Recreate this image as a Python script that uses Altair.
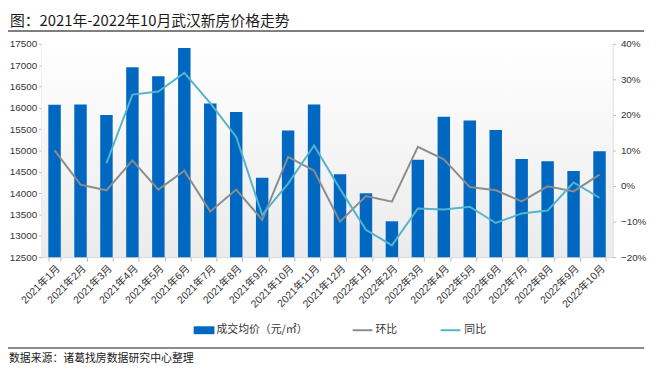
import altair as alt
import pandas as pd

months = ["2021年1月", "2021年2月", "2021年3月", "2021年4月", "2021年5月", "2021年6月",
          "2021年7月", "2021年8月", "2021年9月", "2021年10月", "2021年11月", "2021年12月",
          "2022年1月", "2022年2月", "2022年3月", "2022年4月", "2022年5月", "2022年6月",
          "2022年7月", "2022年8月", "2022年9月", "2022年10月"]
price = [16070, 16080, 15830, 16950, 16740, 17400, 16100, 15900, 14360, 15470, 16080, 14440,
         14000, 13340, 14780, 15790, 15700, 15480, 14800, 14750, 14520, 14980]
huanbi = [10.0, 0.4, -1.2, 7.2, -1.0, 4.3, -7.2, -1.0, -9.5, 8.2, 4.3, -10.0,
          -2.8, -4.4, 11.0, 7.5, -0.3, -1.2, -4.3, -0.1, -1.5, 3.2]
tongbi = [None, None, 6.4, 25.7, 26.6, 31.8, 23.3, 13.8, -8.1, 0.7, 11.4, -0.8,
          -12.3, -16.7, -6.3, -6.6, -5.8, -10.4, -7.7, -6.9, 1.0, -3.3]
series_names = ["环比", "同比"]
left_ticks = [12500, 13000, 13500, 14000, 14500, 15000, 15500, 16000, 16500, 17000, 17500]
right_ticks = [-20, -10, 0, 10, 20, 30, 40]

W, H = 578, 216
PL, PT = 34, 34
NUMF = "Liberation Sans, Noto Sans CJK SC"
CJK = "Noto Sans CJK SC"
BLUE = "#0068c0"
GRAY = "#8c8c8c"
CYAN = "#55b3cc"

bars_df = pd.DataFrame({"month": months, "price": price})
line_df = pd.DataFrame({
    "month": months * 2,
    "series": [series_names[0]] * len(months) + [series_names[1]] * len(months),
    "pct": huanbi + tongbi,
})
one = pd.DataFrame({"k": [0]})

xenc = alt.X(
    "month:N", sort=months,
    scale=alt.Scale(paddingInner=0.52, paddingOuter=0.26),
    axis=alt.Axis(title=None, labelAngle=-45, labelFontSize=10.5, labelFont=NUMF,
                  labelColor="#333333", domainColor="#d0d0d0", tickColor="#b8b8b8",
                  tickSize=4, tickBand="extent", labelPadding=2),
)

bg = alt.Chart(one).mark_rect(
    color={"gradient": "linear", "x1": 0, "x2": 0, "y1": 0, "y2": 1,
           "stops": [{"offset": 0, "color": "#ffffff"}, {"offset": 1, "color": "#ebebeb"}]}
).encode(x=alt.value(0), x2=alt.value(W), y=alt.value(0), y2=alt.value(H))

bars = alt.Chart(bars_df).mark_bar(color=BLUE).encode(
    x=xenc,
    y=alt.Y("price:Q",
            scale=alt.Scale(domain=[12500, 17500], zero=False, nice=False, clamp=True),
            axis=alt.Axis(orient="left", values=left_ticks, title=None, grid=False,
                          format="d",
                          labelFontSize=10, labelFont=NUMF, labelColor="#333333",
                          domainColor="#d0d0d0", tickColor="#b8b8b8", tickSize=3,
                          labelPadding=2)),
)

lines = alt.Chart(line_df).mark_line(strokeWidth=2).encode(
    x=alt.X("month:N", sort=months),
    y=alt.Y("pct:Q",
            scale=alt.Scale(domain=[-20, 40], nice=False, zero=False),
            axis=alt.Axis(orient="right", values=right_ticks, title=None, grid=False,
                          labelExpr="format(datum.value, 'd') + '%'",
                          labelFontSize=10, labelFont=NUMF, labelColor="#333333",
                          domainColor="#d0d0d0", tickColor="#b8b8b8", tickSize=3,
                          labelPadding=5)),
    color=alt.Color("series:N", scale=alt.Scale(domain=series_names, range=[GRAY, CYAN]),
                    legend=None),
)


def txt(s, x, y, size, color, font=CJK, weight="normal"):
    return alt.Chart(one).mark_text(text=s, align="left", baseline="middle", fontSize=size,
                                    font=font, color=color, fontWeight=weight).encode(
        x=alt.value(x - PL), y=alt.value(y - PT))


def hrule(x1, x2, y, color, width):
    return alt.Chart(one).mark_rule(color=color, strokeWidth=width).encode(
        x=alt.value(x1 - PL), x2=alt.value(x2 - PL), y=alt.value(y - PT))


# decoration positions below are in chart-canvas pixels (canvas origin = page (8, 8))
decos = [
    txt("图：2021年-2022年10月武汉新房价格走势", 2, 11, 15, "#1a1a1a"),
    hrule(0, 644, 21, "#555555", 1.5),
    alt.Chart(one).mark_rect(color=BLUE).encode(
        x=alt.value(188 - PL), x2=alt.value(209 - PL),
        y=alt.value(320 - PT), y2=alt.value(328 - PT)),
    txt("成交均价（元/㎡）", 211, 324, 11, "#333333"),
    hrule(349, 369, 324, GRAY, 2),
    txt("环比", 372, 324, 11, "#333333"),
    hrule(438, 458, 324, CYAN, 2),
    txt("同比", 462, 324, 11, "#333333"),
    hrule(0, 644, 342, "#666666", 1.5),
    txt("数据来源：诸葛找房数据研究中心整理", 1, 353, 11, "#1a1a1a"),
]

chart = alt.layer(bg, bars, lines, *decos).resolve_scale(y="independent").properties(
    width=W, height=H,
    autosize=alt.AutoSizeParams(type="none"),
    padding={"left": PL, "top": PT, "right": 40, "bottom": 110},
).configure_view(stroke=None)

chart.save("out.html", embed_options={"renderer": "svg", "actions": False})
